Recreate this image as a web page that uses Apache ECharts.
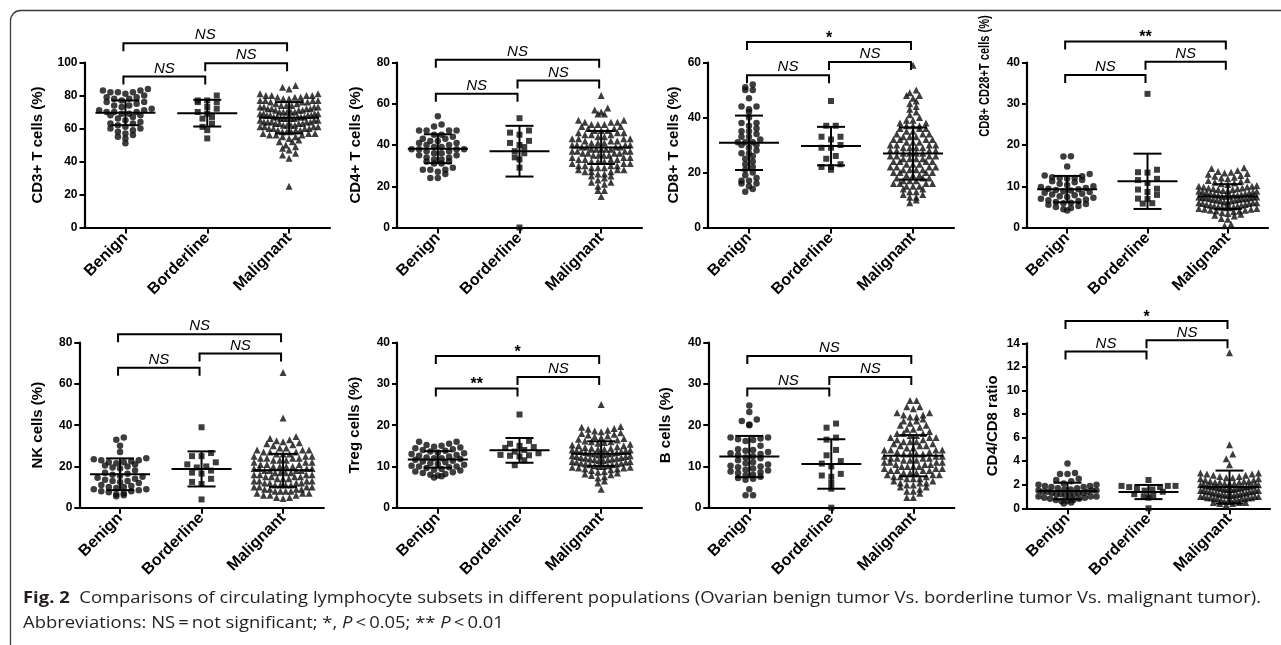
<!DOCTYPE html>
<html><head><meta charset="utf-8">
<script src="https://cdn.jsdelivr.net/npm/echarts@6.0.0/dist/echarts.min.js"></script>
<style>html,body{margin:0;padding:0;background:#fff;}#c{width:1281px;height:645px;}</style>
</head><body><div id="c"></div>
<script>
// ---------- DATA ----------
const categories = ['Benign', 'Borderline', 'Malignant'];
const yTitles = ['CD3+ T cells (%)', 'CD4+ T cells (%)', 'CD8+ T cells (%)', 'CD8+ CD28+T cells (%)',
                 'NK cells (%)', 'Treg cells (%)', 'B cells (%)', 'CD4/CD8 ratio'];
const yMaxes = [100, 80, 60, 40, 80, 40, 40, 14];
const ySteps = [20, 20, 20, 10, 20, 10, 10, 2];

const cd3_benign = [84,83,83,82,82,82,81,80,79,79,78,78,77,76,76,75,74,74,73,72,71,71,70,70,70,69,69,68,68,67,66,65,64,63,63,62,61,60,60,59,58,57,56,55,54,51];
const cd3_borderline = [80,77,77,76,76,73,72,70,69,67,66,63,61,59,54];
const cd3_malignant = [86,85,84, 81,81,80,80,80,80,79,79,79,78, 78,77,77,77,77,76,76,76,75,75, 74,74,74,73,73,73,73,72,72,72,72,71,71, 71,70,70,70,70,70,69,69,69,69,68,68,68, 68,67,67,67,67,67,66,66,66,66,66,65,65, 65,64,64,64,64,64,63,63,63,63,62,62,62, 62,61,61,61,61,60,60,60,60,59,59,59, 58,58,58,57,57,57,56,56,56,55,55, 54,53,52,52,50,49,48,47,45,44,42,25];
const cd3_stats = [[69.5,7.5],[69.3,8.1],[66.5,9.5]];
const cd3_sig = [[0,2,111.7,'NS'],[1,2,99.6,'NS'],[0,1,91.5,'NS']];

const cd4_benign = [54,50,49,47,47,47,47,45,45,44,43,43,42,42,41,41,40,40,39,39,38,38,38,38,37,37,36,36,35,35,34,34,33,33,32,32,31,31,29,28,28,28,27,26,24,24];
const cd4_borderline = [53,47,46,45,42,41,40,39,37,36,34,33,29,0];
const cd4_malignant = [64,58,57,56,55,55, 52,52,51,51,51,50,50,50,49,49, 48,48,47,47,47,46,46,46,45,45,45, 44,44,43,43,43,43,42,42,42,41,41,41, 40,40,40,40,39,39,39,39,38,38,38,38,38, 37,37,37,37,36,36,36,36,35,35,35,35, 34,34,34,33,33,33,33,32,32,32,31,31,31, 30,30,30,30,29,29,29,28,28,28,27,27,27, 26,26,25,25,24,23,22,22,21,20,18,18,15];
const cd4_stats = [[38.2,7],[37,12.3],[38.8,8]];
const cd4_sig = [[0,2,81.3,'NS'],[1,2,71.3,'NS'],[0,1,64.8,'NS']];

const cd8_benign = [52,51,50,50,47,44,44,43,42,40,38,38,37,36,35,35,34,33,33,32,31,31,31,30,30,29,28,27,27,26,25,24,23,22,21,20,19,18,17,17,16,16,15,14,13];
const cd8_borderline = [46,37,37,33,33,32,30,29,29,26,25,23,22,22,21];
const cd8_malignant = [59,50,49,48,48,47,46,45,44,43,42,41,40, 39,39,38,38,37,37,37,36,36,36,35,35, 34,34,34,33,33,33,32,32,32,32,31,31,31, 30,30,30,30,29,29,29,29,28,28,28,28,27,27,27,27, 26,26,26,26,25,25,25,25,24,24,24,24,23,23,23, 22,22,22,22,21,21,21,21,20,20,20,20,19,19,19, 18,18,18,17,17,17,16,16,16,16,15,15,15, 14,14,13,13,12,12,11,11,10,9];
const cd8_stats = [[30.8,9.9],[29.6,7],[26.9,9.5]];
const cd8_sig = [[0,2,67.5,'*'],[1,2,60.2,'NS'],[0,1,55.4,'NS']];

const cd28_benign = [17.3,17.2,14.8,13,12.6,12.4,12.2,12,12,11.8,11.5,11.2,11,10.6,10.3,10,9.8,9.6,9.4,9.3,9.1,9,8.8,8.6,8.4,8.2,8,7.8,7.6,7.4,7.2,7,6.8,6.6,6.4,6.2,6,5.9,5.7,5.5,5.2,5,4.7,4.4,4.1];
const cd28_borderline = [32.4,14,13.4,13.3,11.8,11.5,10.8,9.4,9.2,8.6,7.9,7,6.9,5.9,5.8];
const cd28_malignant = [14.5,14.3,13.8,13.6,13.4,13.2,13.1,12.9, 12.6,12.4,12.2,12,11.8,11.6,11.4,11.2,11, 10.8,10.6,10.4,10.2,10,10,9.8,9.8,9.6,9.6,9.4,9.4, 9.2,9.2,9,9,8.8,8.8,8.6,8.6,8.4,8.4,8.2,8.2,8,8, 7.8,7.8,7.8,7.6,7.6,7.6,7.4,7.4,7.4,7.2,7.2,7.2,7,7,7, 6.8,6.8,6.6,6.6,6.4,6.4,6.2,6.2,6,6,6,5.8,5.8, 5.6,5.6,5.4,5.4,5.2,5.2,5,5,5,4.8,4.8,4.6,4.6, 4.4,4.4,4.2,4.2,4,4,3.8,3.6,3.4,3.2,3,2.8,2.2,2,0.8,0.4];
const cd28_stats = [[9.3,3.2],[11.2,6.7],[7.5,3]];
const cd28_sig = [[0,2,45.1,'**'],[1,2,40.2,'NS'],[0,1,37.0,'NS']];

const nk_benign = [34,33,30,27,24,23.5,23,23,22.5,22,22,21.5,21,20.5,20,19.5,19,18,17,16.5,16,15.5,15,14.5,14,13.5,13,13,12.5,12,11,10.5,10,10,9.5,9,9,8.5,8,8,7.5,7,6.5,6,5.5];
const nk_borderline = [39,26.5,25,25,22,21,20,19.5,18,17,16.5,14,12.5,11.5,4];
const nk_malignant = [65.5,43.5,34.5,33.5,33,32.5,32,31.5,31,30.5,30, 29,29,28,28,28,27,27,27,26,26,26, 25,25,25,24,24,24,24,23,23,23,22,22,22, 21,21,21,20,20,20,20,19,19,19,19,18,18,18,18, 17,17,17,17,16,16,16,16,15,15,15,15,14,14,14, 13,13,13,13,12,12,12,12,11,11,11,11,10,10,10,10, 9,9,9,9,8,8,8,8,7,7,7,6,6,6,5,5,4.5];
const nk_stats = [[16.2,7.7],[18.8,8.5],[18.1,8]];
const nk_sig = [[0,2,84.1,'NS'],[1,2,74.8,'NS'],[0,1,67.9,'NS']];

const treg_benign = [16,16,15.5,15.2,15,14.8,14.6,14.4,14.2,14,13.8,13.6,13.4,13.2,13,12.8,12.6,12.4,12.2,12,12,11.8,11.6,11.4,11.2,11,10.8,10.6,10.4,10.2,10,10,9.8,9.6,9.4,9.2,9,8.8,8.6,8.4,8.2,8,7.8,7.6,7.3];
const treg_borderline = [22.6,16.2,15.5,15,14.7,14.5,14,13.6,13.2,12.8,12.7,12.6,12.4,11.5,10.3];
const treg_malignant = [25,19.7,19.5,19.2,19,18.8,18.6,18.4,18.2, 18,17.8,17.6,17.4,17.2,17,16.8,16.6,16.4,16.2, 16,16,15.8,15.6,15.4,15.2,15,15,14.8,14.6,14.4,14.4, 14.2,14.2,14,14,13.8,13.8,13.6,13.6,13.4,13.4,13.2,13.2,13,13, 12.8,12.8,12.6,12.6,12.4,12.4,12.2,12.2,12,12,11.8,11.8,11.6,11.6, 11.4,11.4,11.2,11.2,11,11,10.8,10.8,10.6,10.6,10.4,10.4,10.2,10.2,10,10, 9.8,9.8,9.6,9.6,9.4,9.4,9.2,9,8.8,8.6,8.4,8.2,8,7.8,7.5,7.2,6.5,6,4.5];
const treg_stats = [[11.7,2],[13.9,3],[13.1,3]];
const treg_sig = [[0,2,36.8,'*'],[1,2,31.7,'NS'],[0,1,28.9,'**']];

const b_benign = [24.8,23.2,21.4,21,20.2,20,17,17,16.8,16.6,16.4,16.2,15,14.2,14,13.8,13.5,13.2,13,12.8,12.5,12.2,12,11.5,11,10.8,10.5,10.2,10,9.8,9.5,9.2,9,8.8,8.6,8.4,8,7.8,7.5,7.2,7,6.8,4.5,3,3];
const b_borderline = [20.4,19.4,17,16.5,14,12.7,11.3,10.7,10,8.2,7.8,7.5,6,4.6,0];
const b_malignant = [26,26,24.5,24.5,24,23,23,22.5,22.5,22,22,21.5,21,21,20.5,20,20, 19.5,19,19,18.5,18,18,18,17.5,17.5,17,17,17,16.5,16.5,16,16,16, 15.5,15.5,15,15,15,14.5,14.5,14,14,14,14,13.5,13.5,13,13,13,13, 12.5,12.5,12.5,12,12,12,12,11.5,11.5,11.5,11,11,11,11, 10.5,10.5,10.5,10,10,10,10,9.5,9.5,9.5,9,9,9,9,8.5,8.5,8.5, 8,8,8,7.5,7.5,7.5,7,7,7,6.5,6.5,6,6,6,5.5,5.5,5,5, 4.5,4,4,3.5,2.5,2.5];
const b_stats = [[12.4,5],[10.6,6],[12.6,5]];
const b_sig = [[0,2,36.8,'NS'],[1,2,31.7,'NS'],[0,1,28.9,'NS']];

const ratio_benign = [3.8,3.0,2.9,2.9,2.5,2.4,2.3,2.1,2.0,2.0,1.9,1.9,1.8,1.8,1.7,1.7,1.6,1.6,1.5,1.5,1.5,1.4,1.4,1.4,1.3,1.3,1.3,1.2,1.2,1.2,1.1,1.1,1.0,1.0,1.0,0.9,0.9,0.8,0.8,0.7,0.7,0.6,0.6,0.5,0.4];
const ratio_borderline = [2.4,1.9,1.9,1.9,1.8,1.8,1.7,1.6,1.5,1.4,1.2,1.1,1.0,0.9,0];
const ratio_malignant = [13.2,5.4,4.6,4.2,3.7,3.0,3.0,2.9,2.9,2.8,2.8,2.7,2.7,2.6,2.6, 2.5,2.5,2.4,2.4,2.3,2.3,2.3,2.2,2.2,2.2,2.1,2.1,2.1,2.0,2.0,2.0,2.0, 1.9,1.9,1.9,1.9,1.8,1.8,1.8,1.8,1.7,1.7,1.7,1.7,1.6,1.6,1.6,1.6, 1.5,1.5,1.5,1.5,1.4,1.4,1.4,1.4,1.3,1.3,1.3,1.3,1.2,1.2,1.2,1.2, 1.1,1.1,1.1,1.1,1.0,1.0,1.0,1.0,0.9,0.9,0.9,0.9,0.8,0.8,0.8,0.8, 0.7,0.7,0.7,0.6,0.6,0.6,0.5,0.5,0.5,0.4,0.4,0.3];
const ratio_stats = [[1.47,0.7],[1.38,0.6],[1.8,1.4]];
const ratio_sig = [[0,2,15.9,'*'],[1,2,14.25,'NS'],[0,1,13.3,'NS']];

const captionBold = 'Fig. 2';
const captionLine1 = '  Comparisons of circulating lymphocyte subsets in different populations (Ovarian benign tumor Vs. borderline tumor Vs. malignant tumor).';
const captionLine2 = ['Abbreviations: NS\u2009=\u2009not significant; *, ', 'P', '\u2009<\u20090.05; ** ', 'P', '\u2009<\u20090.01'];

// ---------- LAYOUT / STYLE ----------
const FONT = '"Liberation Sans", Arial, Helvetica, sans-serif';
const CAP_FONT = '"Open Sans", "Noto Sans", sans-serif';
const panels = [
  {groups:[cd3_benign,cd3_borderline,cd3_malignant], stats:cd3_stats, sig:cd3_sig},
  {groups:[cd4_benign,cd4_borderline,cd4_malignant], stats:cd4_stats, sig:cd4_sig},
  {groups:[cd8_benign,cd8_borderline,cd8_malignant], stats:cd8_stats, sig:cd8_sig},
  {groups:[cd28_benign,cd28_borderline,cd28_malignant], stats:cd28_stats, sig:cd28_sig},
  {groups:[nk_benign,nk_borderline,nk_malignant], stats:nk_stats, sig:nk_sig},
  {groups:[treg_benign,treg_borderline,treg_malignant], stats:treg_stats, sig:treg_sig},
  {groups:[b_benign,b_borderline,b_malignant], stats:b_stats, sig:b_sig},
  {groups:[ratio_benign,ratio_borderline,ratio_malignant], stats:ratio_stats, sig:ratio_sig}
];
const layout = [
  {left:84.5, top:62.5, width:245.5, height:165, nameGap:39},
  {left:397, top:62.5, width:245, height:165, nameGap:34},
  {left:708, top:62.5, width:246, height:165, nameGap:27},
  {left:1027, top:62.5, width:241, height:165, nameGap:35, graphicName:{x:985, y:76, scaleX:0.74}},
  {left:79.3, top:342.7, width:244.5, height:165, nameGap:34},
  {left:397, top:342.7, width:245, height:165, nameGap:35},
  {left:708.3, top:342.7, width:246, height:165, nameGap:35},
  {left:1027, top:343.3, width:243, height:165, nameGap:27}
];
const SYM = ['circle', 'rect', 'triangle'];
const SYM_SIZE = [6.5, 6, 7];
const DOT_GAP = [7.5, 9.5, 6.5];
const MAX_HALF = [29, 27, 29];
const ROW_H = 5.5;

// beeswarm-like row layout (x offsets only; y stays at the value)
function swarm(values, cat, pxPerUnit, bandPx, gap, half) {
  const sorted = values.slice().sort((a, b) => b - a);
  const rows = []; let cur = null;
  sorted.forEach(v => {
    if (!cur || (cur.top - v) * pxPerUnit >= ROW_H) { cur = {top: v, items: []}; rows.push(cur); }
    cur.items.push(v);
  });
  const pts = [];
  rows.forEach(r => {
    const n = r.items.length;
    const s = n > 1 ? Math.min(gap, 2 * half / (n - 1)) : 0;
    const offs = [];
    for (let k = 0; k < n; k++) offs.push((k - (n - 1) / 2) * s);
    offs.sort((a, b) => (Math.abs(a) - Math.abs(b)) || (a - b));
    const asc = r.items.slice().sort((a, b) => a - b);
    asc.forEach((v, k) => pts.push([cat + 0.5 + offs[k] / bandPx, v]));
  });
  return pts;
}

const grids = [], xAxes = [], yAxes = [], series = [], graphics = [];
panels.forEach((p, i) => {
  const L = layout[i];
  const ppu = L.height / yMaxes[i];
  const band = L.width / 3;
  grids.push({left: L.left, top: L.top, width: L.width, height: L.height, containLabel: false, outerBoundsMode: 'none'});
  xAxes.push({
    type: 'category', gridIndex: i, data: categories, boundaryGap: true,
    axisLine: {show: true, lineStyle: {color: '#000', width: 2.2}},
    axisTick: {show: true, alignWithLabel: true, length: 6, lineStyle: {color: '#000', width: 2}},
    axisLabel: {interval: 0, rotate: 45, margin: 8, color: '#000', fontWeight: 'bold', fontSize: 16, fontFamily: FONT},
    splitLine: {show: false}
  });
  xAxes.push({type: 'value', gridIndex: i, min: 0, max: 3, show: false});
  yAxes.push({
    type: 'value', gridIndex: i, min: 0, max: yMaxes[i], interval: ySteps[i],
    name: L.graphicName ? '' : yTitles[i], nameLocation: 'middle', nameGap: L.nameGap, nameMoveOverlap: false,
    nameTextStyle: {color: '#000', fontWeight: 'bold', fontSize: 15, fontFamily: FONT},
    axisLine: {show: true, lineStyle: {color: '#000', width: 2.2}},
    axisTick: {show: true, length: 5, lineStyle: {color: '#000', width: 2}},
    axisLabel: {margin: 7, color: '#000', fontWeight: 'bold', fontSize: 12, fontFamily: FONT},
    splitLine: {show: false}
  });
  if (L.graphicName) {
    graphics.push({type: 'text', x: L.graphicName.x, y: L.graphicName.y, rotation: Math.PI / 2, scaleX: L.graphicName.scaleX,
      style: {text: yTitles[i], fill: '#000', fontWeight: 'bold', fontSize: 15, fontFamily: FONT, align: 'center', verticalAlign: 'middle'}});
  }
  p.groups.forEach((g, k) => {
    series.push({
      type: 'scatter', xAxisIndex: 2 * i + 1, yAxisIndex: i, symbol: SYM[k], symbolSize: SYM_SIZE[k],
      itemStyle: {color: '#0d0d0d'}, silent: true, z: 3,
      data: swarm(g, k, ppu, band, DOT_GAP[k], MAX_HALF[k])
    });
  });
  series.push({
    type: 'custom', xAxisIndex: 2 * i + 1, yAxisIndex: i, clip: false, silent: true, z: 5,
    data: p.stats.map((s, k) => [k + 0.5, s[0], s[1]]),
    renderItem: (params, api) => {
      const x = api.value(0), m = api.value(1), sd = api.value(2);
      const c = api.coord([x, m]), t = api.coord([x, m + sd]), b = api.coord([x, Math.max(0, m - sd)]);
      const st = {stroke: '#000', lineWidth: 2, fill: 'none'};
      return {type: 'group', children: [
        {type: 'line', shape: {x1: c[0] - 30, y1: c[1], x2: c[0] + 30, y2: c[1]}, style: st},
        {type: 'line', shape: {x1: c[0], y1: t[1], x2: c[0], y2: b[1]}, style: st},
        {type: 'line', shape: {x1: c[0] - 14, y1: t[1], x2: c[0] + 14, y2: t[1]}, style: st},
        {type: 'line', shape: {x1: c[0] - 14, y1: b[1], x2: c[0] + 14, y2: b[1]}, style: st}
      ]};
    }
  });
  series.push({
    type: 'custom', xAxisIndex: 2 * i + 1, yAxisIndex: i, clip: false, silent: true, z: 6,
    data: p.sig.map(s => [(s[0] + s[1]) / 2 + 0.5, s[2]]),
    renderItem: (params, api) => {
      const s = p.sig[params.dataIndex];
      const a = api.coord([s[0] + 0.5, s[2]]), b = api.coord([s[1] + 0.5, s[2]]);
      const x1 = a[0] - 2, x2 = b[0] - 2, y = a[1];
      const star = s[3].indexOf('*') >= 0;
      return {type: 'group', children: [
        {type: 'polyline', shape: {points: [[x1, y + 8], [x1, y], [x2, y], [x2, y + 8]]}, style: {stroke: '#000', lineWidth: 2, fill: 'none'}},
        {type: 'text', x: (x1 + x2) / 2, y: star ? y - 3.5 : y - 8,
          style: {text: s[3], fill: '#000', align: 'center', verticalAlign: 'middle',
            fontSize: star ? 16 : 15, fontStyle: star ? 'normal' : 'italic', fontWeight: star ? 'bold' : 'normal', fontFamily: FONT}}
      ]};
    }
  });
});

// caption, fitted to the reference line width
const CAP_SIZE = 15.5;
const cv = document.createElement('canvas').getContext('2d');
cv.font = 'bold ' + CAP_SIZE + 'px ' + CAP_FONT;
const wB = cv.measureText(captionBold).width;
cv.font = CAP_SIZE + 'px ' + CAP_FONT;
const wR = cv.measureText(captionLine1).width;
const capScale = 1238 / (wB + wR);
const capRich = {
  b: {fontWeight: 'bold', fontSize: CAP_SIZE, fontFamily: CAP_FONT, fill: '#231f20'},
  r: {fontSize: CAP_SIZE, fontFamily: CAP_FONT, fill: '#231f20'},
  i: {fontStyle: 'italic', fontSize: CAP_SIZE, fontFamily: CAP_FONT, fill: '#231f20'}
};
graphics.push({type: 'rect', z: -1, silent: true, shape: {x: 10.5, y: 10.5, width: 1320, height: 700, r: 10},
  style: {fill: 'none', stroke: '#3a3a3a', lineWidth: 1.3}});
graphics.push({type: 'text', x: 23, y: 599, scaleX: capScale, silent: true,
  style: {text: '{b|' + captionBold + '}{r|' + captionLine1 + '}', rich: capRich, verticalAlign: 'middle', align: 'left'}});
graphics.push({type: 'text', x: 23, y: 624, scaleX: capScale, silent: true,
  style: {text: '{r|' + captionLine2[0] + '}{i|' + captionLine2[1] + '}{r|' + captionLine2[2] + '}{i|' + captionLine2[3] + '}{r|' + captionLine2[4] + '}',
    rich: capRich, verticalAlign: 'middle', align: 'left'}});

const chart = echarts.init(document.getElementById('c'), null, {renderer: 'canvas'});
chart.setOption({
  animation: false,
  backgroundColor: '#fff',
  grid: grids, xAxis: xAxes, yAxis: yAxes, series: series,
  graphic: {elements: graphics}
});
</script>
</body></html>
